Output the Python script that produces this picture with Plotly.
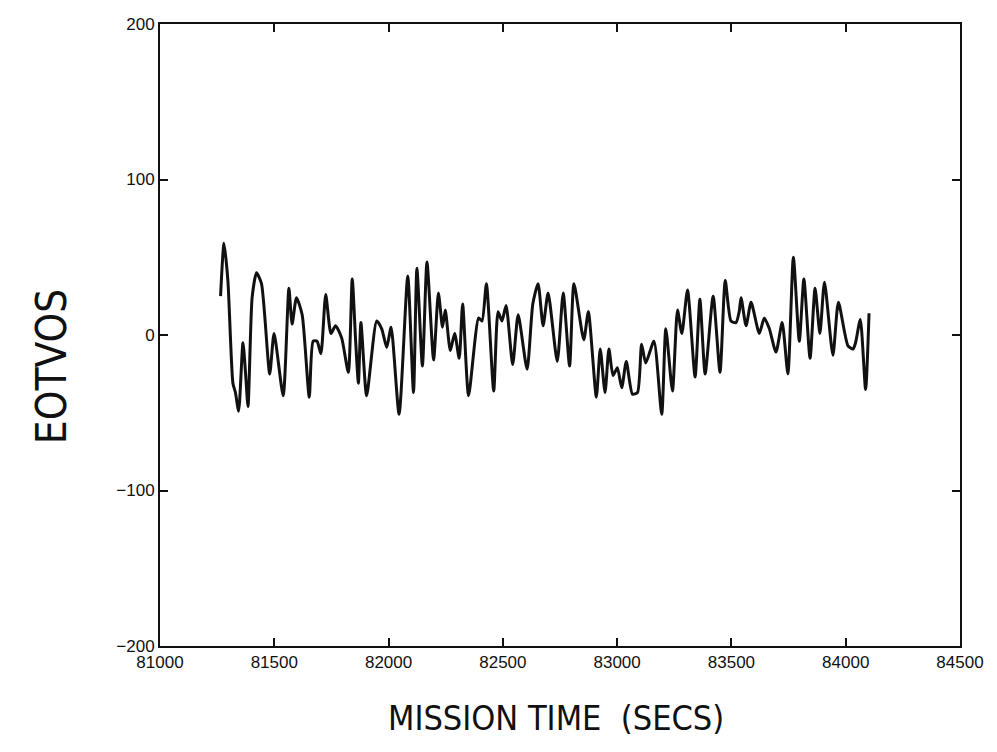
import plotly.graph_objects as go

# Mission time (s) and Eotvos values
mission_time = [
    81265, 81280, 81297, 81319, 81330, 81344, 81363, 81374, 81385, 81403,
    81422, 81444, 81480, 81499, 81539, 81564, 81578, 81597, 81622, 81653,
    81670, 81687, 81704, 81725, 81748, 81768, 81795, 81824, 81841, 81856,
    81868, 81879, 81904, 81948, 81970, 81992, 82011, 82046, 82084, 82109,
    82124, 82148, 82168, 82197, 82218, 82236, 82248, 82270, 82289, 82309,
    82324, 82350, 82394, 82409, 82428, 82460, 82479, 82496, 82514, 82543,
    82567, 82606, 82631, 82654, 82676, 82698, 82738, 82764, 82792, 82811,
    82854, 82874, 82909, 82926, 82947, 82964, 82982, 83001, 83020, 83040,
    83067, 83089, 83107, 83125, 83161, 83195, 83213, 83242, 83264, 83283,
    83308, 83341, 83362, 83385, 83420, 83450, 83473, 83498, 83520, 83534,
    83542, 83564, 83586, 83622, 83644, 83666, 83695, 83722, 83747, 83771,
    83797, 83817, 83844, 83866, 83887, 83907, 83944, 83968, 84010, 84032,
    84043, 84064, 84087, 84102,
]
eotvos = [
    25, 59, 35, -31, -37, -49, -5, -24, -46, 24,
    40, 33, -25, 1, -39, 30, 7, 24, 13, -40,
    -4, -4, -12, 26, 1, 6, -2, -24, 36, -4,
    -31, 8, -39, 9, 4, -8, 5, -51, 38, -37,
    43, -20, 47, -16, 27, 5, 16, -10, 1, -15,
    20, -39, 11, 9, 33, -36, 15, 9, 19, -19,
    13, -22, 20, 33, 6, 27, -17, 27, -20, 33,
    -3, 15, -40, -9, -37, -9, -26, -21, -34, -17,
    -38, -37, -6, -18, -4, -51, 4, -36, 16, 1,
    29, -27, 23, -25, 25, -24, 35, 9, 8, 15,
    24, 6, 21, 1, 11, 4, -11, 8, -25, 50,
    -4, 36, -15, 30, 1, 34, -13, 21, -7, -9,
    -5, 10, -35, 14,
]

x_ticks = [81000, 81500, 82000, 82500, 83000, 83500, 84000, 84500]
y_ticks = [-200, -100, 0, 100, 200]

x_title = "MISSION TIME  (SECS)"
y_title = "EOTVOS"

fig = go.Figure()
fig.add_trace(go.Scatter(
    x=mission_time, y=eotvos, mode="lines",
    line=dict(color="#111111", width=3, shape="spline", smoothing=0.6),
    showlegend=False, hoverinfo="skip",
))

tick_font = dict(family="Liberation Sans, Arial, sans-serif", size=17, color="#111111")
title_family = "Liberation Sans Narrow, DejaVu Sans Condensed, Liberation Sans, sans-serif"

fig.update_layout(
    width=997, height=752,
    margin=dict(l=160, r=37, t=24, b=106),
    paper_bgcolor="white", plot_bgcolor="white",
    xaxis=dict(
        range=[81000, 84500], tickvals=x_ticks,
        ticktext=[str(v) for v in x_ticks],
        ticks="inside", ticklen=8, tickwidth=1.5, tickcolor="#111111",
        showline=True, linewidth=2, linecolor="#111111", mirror="ticks",
        showgrid=False, zeroline=False, tickfont=tick_font,
    ),
    yaxis=dict(
        range=[-200, 200], tickvals=y_ticks,
        ticks="inside", ticklen=8, tickwidth=1.5, tickcolor="#111111",
        showline=True, linewidth=2, linecolor="#111111", mirror="ticks",
        showgrid=False, zeroline=False, tickfont=tick_font,
    ),
    annotations=[
        dict(text=x_title, xref="paper", yref="paper", x=0.495, y=-0.116,
             xanchor="center", yanchor="middle", showarrow=False,
             font=dict(family=title_family, size=34, color="#111111")),
        dict(text=y_title, xref="paper", yref="paper", x=-0.103, y=0.45,
             xanchor="right", yanchor="middle", showarrow=False, textangle=-90,
             font=dict(family=title_family, size=42, color="#111111")),
    ],
)

fig.write_html("out.html")
